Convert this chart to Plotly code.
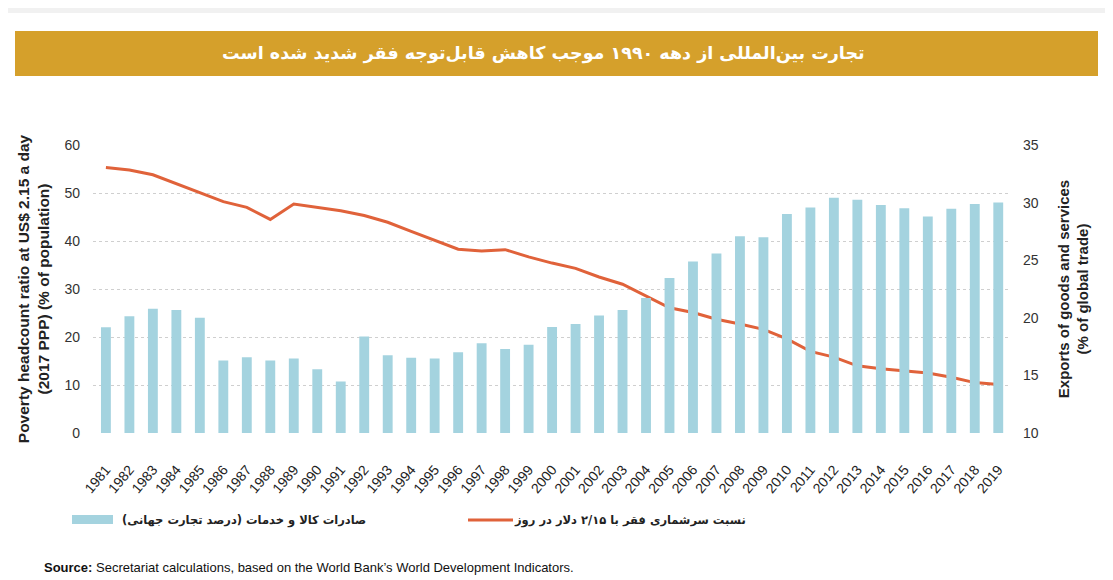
import plotly.graph_objects as go

years = [str(y) for y in range(1981, 2020)]
exports_pct = [19.17, 20.13, 20.79, 20.67, 20.0, 16.29, 16.58, 16.29, 16.46, 15.54,
               14.46, 18.38, 16.75, 16.54, 16.46, 17.0, 17.79, 17.29, 17.67, 19.21,
               19.46, 20.21, 20.67, 21.71, 23.46, 24.88, 25.58, 27.08, 27.0, 29.0,
               29.58, 30.42, 30.25, 29.79, 29.5, 28.79, 29.46, 29.88, 30.0]
poverty_pct = [55.3, 54.8, 53.8, 51.9, 50.0, 48.2, 47.0, 44.5, 47.7, 47.0,
               46.3, 45.3, 43.9, 42.0, 40.1, 38.3, 37.9, 38.2, 36.7, 35.4,
               34.3, 32.5, 31.0, 28.6, 26.1, 25.1, 23.7, 22.7, 21.6, 19.6,
               17.0, 15.8, 14.0, 13.4, 12.9, 12.5, 11.6, 10.5, 10.1]

title_text = "تجارت بین‌المللی از دهه ۱۹۹۰ موجب کاهش قابل‌توجه فقر شدید شده است"
bar_name = "صادرات کالا و خدمات (درصد تجارت جهانی)"
line_name = "نسبت سرشماری فقر با ۲/۱۵ دلار در روز"
left_title = "<b>Poverty headcount ratio at US$ 2.15 a day<br>(2017 PPP) (% of population)</b>"
right_title = "<b>Exports of goods and services<br>(% of global trade)</b>"
source_text = "<b>Source:</b> Secretariat calculations, based on the World Bank’s World Development Indicators."

BAR_COLOR = "#A4D3DF"
LINE_COLOR = "#E0623A"

W, H = 1105, 572
L, T, PW, PH = 85, 137, 917, 288
R, B = W - L - PW, H - T - PH
BOTTOM = T + PH


def px(xf):
    return (xf - L) / PW


def py(yf):
    return (BOTTOM - yf) / PH


fig = go.Figure()
fig.add_trace(go.Bar(x=years, y=exports_pct, name=bar_name, yaxis="y2",
                     marker=dict(color=BAR_COLOR, line=dict(width=0)), width=0.42,
                     showlegend=False))
fig.add_trace(go.Scatter(x=years, y=poverty_pct, name=line_name, yaxis="y",
                         mode="lines", line=dict(color=LINE_COLOR, width=3),
                         showlegend=False))

fig.update_layout(
    width=W, height=H,
    paper_bgcolor="white", plot_bgcolor="white",
    margin=dict(l=L, r=R, t=T, b=B),
    font=dict(family="Liberation Sans, Arial, sans-serif", size=13, color="#333333"),
    xaxis=dict(type="category", tickangle=-50, showgrid=False, showline=False,
               ticks="outside", ticklen=22, tickcolor="rgba(0,0,0,0)",
               tickfont=dict(size=14, color="#222222"), range=[-0.55, 38.5]),
    yaxis=dict(range=[0, 60], dtick=10, showgrid=True, gridcolor="#cfcfcf",
               griddash="dot", gridwidth=1, zeroline=False, ticklabelstandoff=12,
               tickfont=dict(size=14, color="#333333"),
               title=dict(text=left_title, font=dict(size=15.5, color="#222222"), standoff=10)),
    yaxis2=dict(range=[10, 35], dtick=5, overlaying="y", side="right", showgrid=False,
                zeroline=False, ticklabelstandoff=12, tickfont=dict(size=14, color="#333333"),
                title=dict(text=right_title, font=dict(size=15, color="#222222"), standoff=20)),
    bargap=0.5,
    showlegend=False,
)

# light grey top strip
fig.add_shape(type="rect", xref="paper", yref="paper",
              x0=px(-10), x1=px(W + 10), y0=py(0), y1=py(5),
              fillcolor="#f1f1f1", line=dict(width=0), layer="below")
# title banner
fig.add_shape(type="rect", xref="paper", yref="paper",
              x0=px(7), x1=px(1090), y0=py(23), y1=py(68),
              fillcolor="#D5A02B", line=dict(width=0), layer="below")
fig.add_annotation(text="<b>" + title_text + "</b>", xref="paper", yref="paper",
                   x=px(535), y=py(46), xanchor="center", yanchor="middle", showarrow=False,
                   font=dict(family="DejaVu Sans, sans-serif", size=17.5, color="white"))

# legend (drawn manually to match layout)
fig.add_shape(type="rect", xref="paper", yref="paper",
              x0=px(64), x1=px(105), y0=py(507), y1=py(516),
              fillcolor=BAR_COLOR, line=dict(width=0))
fig.add_annotation(text="<b>" + bar_name + "</b>", xref="paper", yref="paper",
                   x=px(112), y=py(512), xanchor="left", yanchor="middle", showarrow=False,
                   font=dict(family="DejaVu Sans, sans-serif", size=11.5, color="#222222"))
fig.add_shape(type="line", xref="paper", yref="paper",
              x0=px(460), x1=px(505), y0=py(512), y1=py(512),
              line=dict(color=LINE_COLOR, width=3))
fig.add_annotation(text="<b>" + line_name + "</b>", xref="paper", yref="paper",
                   x=px(504), y=py(512), xanchor="left", yanchor="middle", showarrow=False,
                   font=dict(family="DejaVu Sans, sans-serif", size=11.5, color="#222222"))

fig.add_annotation(text=source_text, xref="paper", yref="paper",
                   x=px(34), y=py(559), xanchor="left", yanchor="middle",
                   showarrow=False, font=dict(size=13, color="#111111"))

fig.write_html("out.html")
